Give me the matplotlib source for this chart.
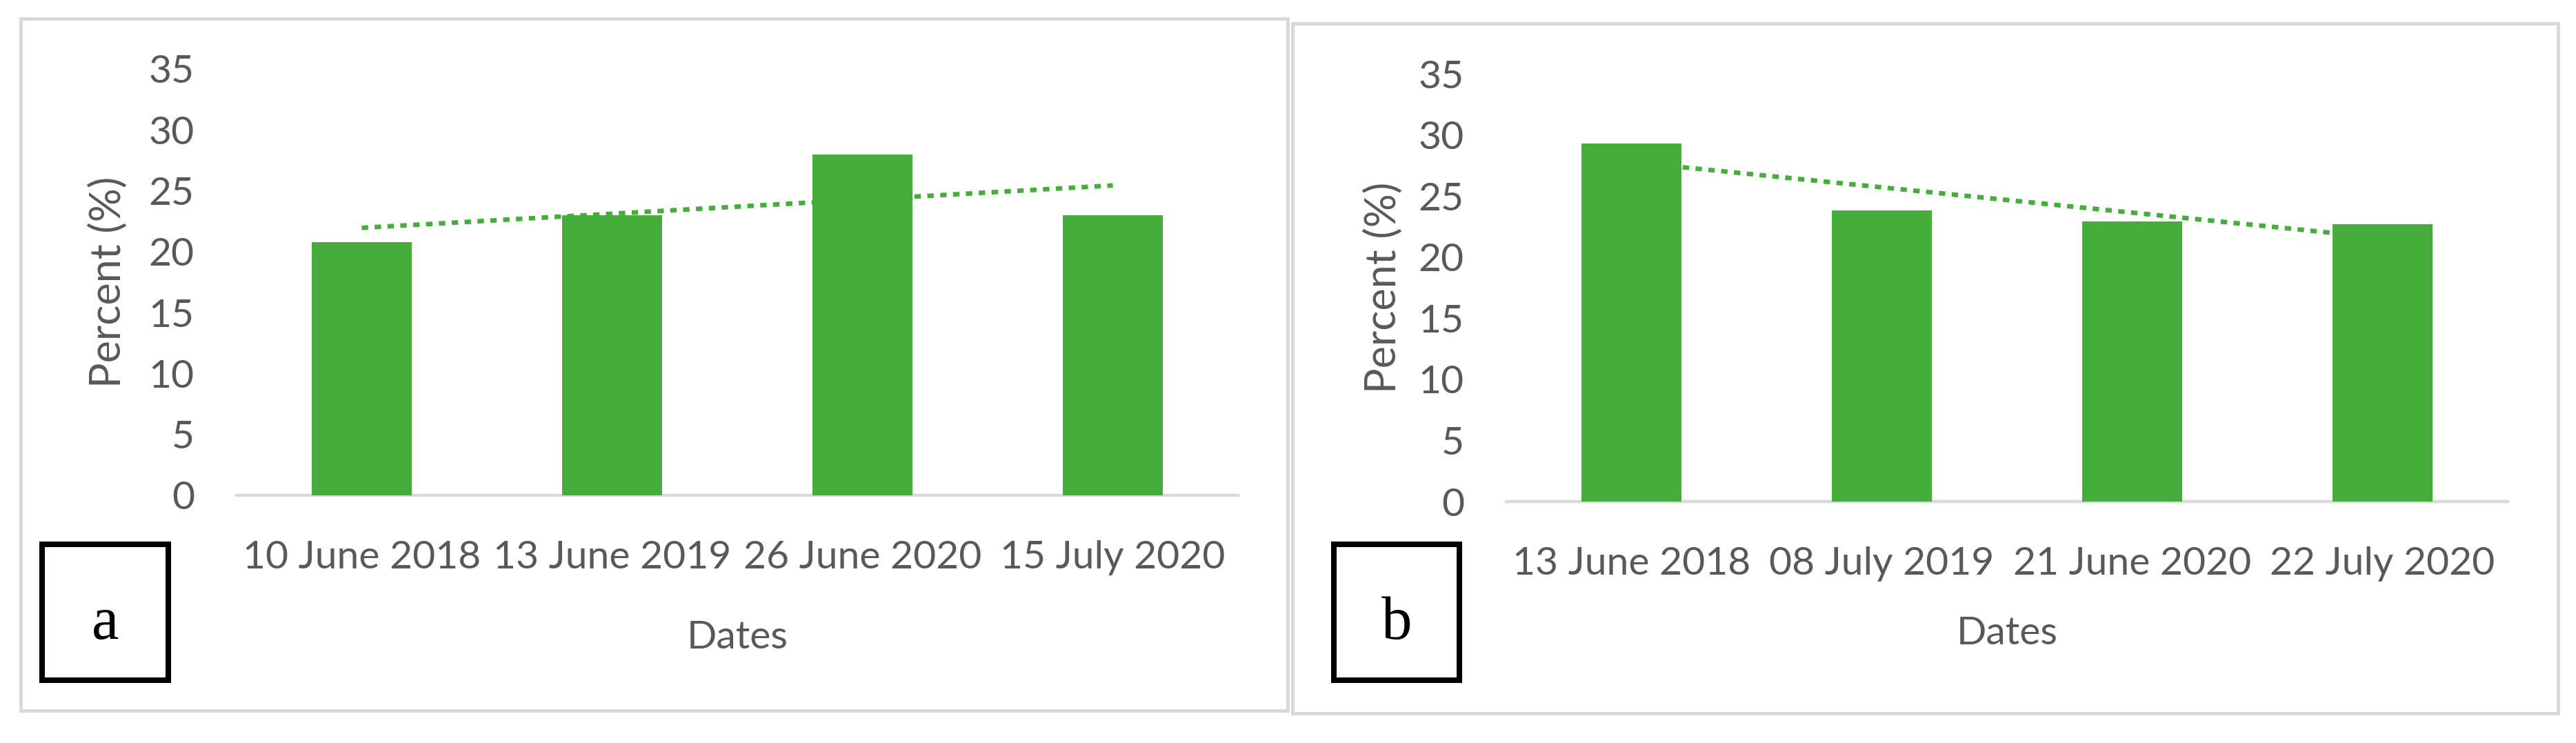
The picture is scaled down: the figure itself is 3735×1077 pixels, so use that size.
import numpy as np
import matplotlib
matplotlib.use("Agg")
import matplotlib.pyplot as plt
from matplotlib.patches import Rectangle

# ---- data ----
dates_a = ["10 June 2018", "13 June 2019", "26 June 2020", "15 July 2020"]
values_a = [20.8, 23.0, 28.0, 23.0]
dates_b = ["13 June 2018", "08 July 2019", "21 June 2020", "22 July 2020"]
values_b = [29.3, 23.8, 22.9, 22.7]
yticks = [0, 5, 10, 15, 20, 25, 30, 35]
panel_letters = ["a", "b"]

W, H = 3735, 1077
DPI = 100
fig = plt.figure(figsize=(W / DPI, H / DPI), dpi=DPI)
fig.patch.set_facecolor("white")

GREEN = "#45AE3B"
GRAY_TXT = "#595959"
AX_GRAY = "#D9D9D9"
FONT = "Lato"
TICK_FS = 41

def px_axes(left, right, top, bottom):
    return fig.add_axes([left / W, 1 - bottom / H, (right - left) / W, (bottom - top) / H])

def panel_box(x0, y0, x1, y1):
    r = Rectangle((x0 / W, 1 - y1 / H), (x1 - x0) / W, (y1 - y0) / H,
                  transform=fig.transFigure, fill=False, edgecolor=AX_GRAY, lw=3.6,
                  zorder=0)
    fig.patches.append(r)

def letter_box(x0, y0, x1, y1, letter, ybase):
    r = Rectangle((x0 / W, 1 - y1 / H), (x1 - x0) / W, (y1 - y0) / H,
                  transform=fig.transFigure, fill=False, edgecolor="black", lw=5.8,
                  zorder=5)
    fig.patches.append(r)
    fig.text((x0 + x1) / 2 / W, 1 - ybase / H, letter, ha="center", va="baseline",
             fontsize=64, family="Liberation Serif", color="black")

def draw_panel(ax, labels, values, ylab_x, xlab_y):
    x = np.arange(len(values))
    ax.bar(x, values, width=0.4, color=GREEN, zorder=2)
    coef = np.polyfit(x, values, 1)
    trend = np.polyval(coef, x)
    ax.plot([x[0], x[-1]], [trend[0], trend[-1]], color=GREEN, lw=4.8,
            linestyle=(0, (1.4, 1.4)), dash_capstyle="butt", zorder=3)
    ax.set_xlim(-0.5, len(values) - 0.5)
    ax.set_ylim(0, 35)
    ax.set_yticks(yticks)
    ax.set_xticks(x)
    ax.set_xticklabels(labels)
    for s in ["top", "right", "left"]:
        ax.spines[s].set_visible(False)
    ax.spines["bottom"].set_color(AX_GRAY)
    ax.spines["bottom"].set_linewidth(3.2)
    ax.spines["bottom"].set_zorder(1)
    ax.tick_params(axis="both", length=0, labelsize=TICK_FS, labelcolor=GRAY_TXT)
    ax.tick_params(axis="y", pad=44)
    ax.tick_params(axis="x", pad=47)
    for t in ax.get_xticklabels() + ax.get_yticklabels():
        t.set_family(FONT)
    ax.set_ylabel("Percent (%)", fontsize=44, color=GRAY_TXT, family=FONT)
    ax.yaxis.set_label_coords(ylab_x, 0.5)
    ax.set_xlabel("Dates", fontsize=TICK_FS, color=GRAY_TXT, family=FONT)
    ax.xaxis.set_label_coords(0.5, xlab_y)
    ax.xaxis.label.set_va("center")
    ax.yaxis.label.set_va("center")
    ax.set_facecolor("none")

panel_box(30, 27, 1867, 1030)
panel_box(1874, 34, 3709, 1034)

ax_a = px_axes(343, 1795, 100, 718)
draw_panel(ax_a, dates_a, values_a, (157 - 343) / 1452, -(925 - 718) / 618)
ax_b = px_axes(2184, 3636, 107, 727)
draw_panel(ax_b, dates_b, values_b, (2006 - 2184) / 1452, -(918 - 727) / 620)

letter_box(61, 789, 244, 986, panel_letters[0], 926)
letter_box(1934, 789, 2116, 986, panel_letters[1], 926)

fig.savefig("out.png", dpi=DPI, facecolor="white")
